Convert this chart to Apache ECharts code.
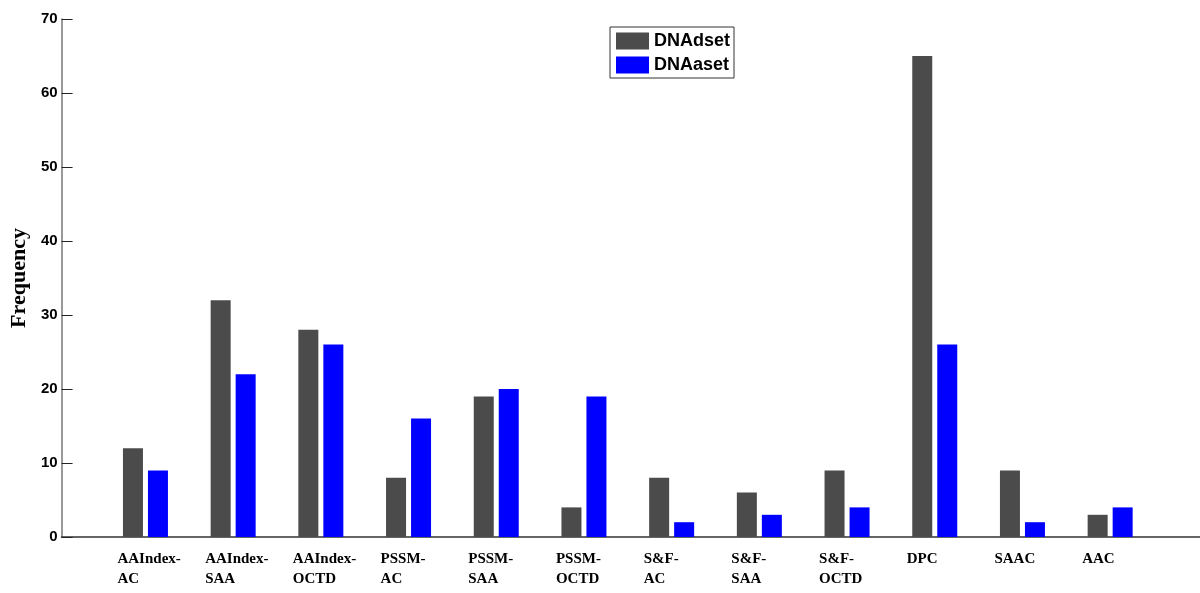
<!DOCTYPE html>
<html>
<head>
<meta charset="utf-8">
<script src="https://cdn.jsdelivr.net/npm/echarts@6/dist/echarts.min.js"></script>
<style>html,body{margin:0;padding:0;background:#fff}#c{width:1200px;height:593px}</style>
</head>
<body>
<div id="c"></div>
<script>
const categories = ['AAIndex-\nAC','AAIndex-\nSAA','AAIndex-\nOCTD','PSSM-\nAC','PSSM-\nSAA','PSSM-\nOCTD','S&F-\nAC','S&F-\nSAA','S&F-\nOCTD','DPC','SAAC','AAC'];
const dnadset = [12, 32, 28, 8, 19, 4, 8, 6, 9, 65, 9, 3];
const dnaaset = [9, 22, 26, 16, 20, 19, 2, 3, 4, 26, 2, 4];
const seriesNames = ['DNAdset', 'DNAaset'];

const chart = echarts.init(document.getElementById('c'), null, {renderer: 'canvas'});
const sans = 'Liberation Sans, Arial, sans-serif';
const serif = 'Liberation Serif, Times New Roman, serif';
chart.setOption({
  animation: false,
  backgroundColor: '#fff',
  legend: {
    orient: 'vertical', left: 610, top: 27,
    data: seriesNames,
    itemWidth: 33, itemHeight: 17, itemGap: 6,
    padding: [5, 4, 4, 6],
    borderColor: '#333', borderWidth: 1,
    textStyle: {fontFamily: sans, fontWeight: 'bold', fontSize: 18, color: '#000'},
    icon: 'rect'
  },
  grid: [
    {left: 59, right: 0, top: 19, bottom: 56},
    {left: 101.6, right: 46, top: 19, bottom: 56},
    {left: 73.6, right: 74, top: 19, bottom: 56}
  ],
  xAxis: [
    {gridIndex: 0, type: 'value', min: 0, max: 1,
     axisLine: {show: true, lineStyle: {color: '#333', width: 1.5}},
     axisTick: {show: false}, axisLabel: {show: false}, splitLine: {show: false}},
    {gridIndex: 1, type: 'category', data: categories,
     axisLine: {show: false}, axisTick: {show: false}, axisLabel: {show: false}},
    {gridIndex: 2, type: 'category', data: categories,
     axisLine: {show: false}, axisTick: {show: false},
     axisLabel: {align: 'left', margin: 12, interval: 0,
       fontFamily: serif, fontWeight: 'bold', fontSize: 15, lineHeight: 20, color: '#000'}}
  ],
  yAxis: [
    {gridIndex: 0, type: 'value', min: 0, max: 70, interval: 10,
     name: 'Frequency', nameLocation: 'middle', nameGap: 28, nameRotate: 90,
     nameTextStyle: {fontFamily: serif, fontWeight: 'bold', fontSize: 22, color: '#000'},
     axisLine: {show: true, lineStyle: {color: '#777', width: 1.5}},
     axisTick: {show: true, inside: true, length: 11, lineStyle: {color: '#222'}},
     axisLabel: {margin: 4, fontFamily: sans, fontWeight: 'bold', fontSize: 15, color: '#000'},
     splitLine: {show: false}},
    {gridIndex: 1, type: 'value', min: 0, max: 70, show: false},
    {gridIndex: 2, type: 'value', min: 0, max: 70, show: false}
  ],
  series: [
    {name: seriesNames[0], type: 'bar', xAxisIndex: 1, yAxisIndex: 1, data: dnadset,
     barWidth: 20, barGap: '25%', itemStyle: {color: '#4b4b4b'}},
    {name: seriesNames[1], type: 'bar', xAxisIndex: 1, yAxisIndex: 1, data: dnaaset,
     barWidth: 20, barGap: '25%', itemStyle: {color: '#0000ff'}}
  ]
});
</script>
</body>
</html>
